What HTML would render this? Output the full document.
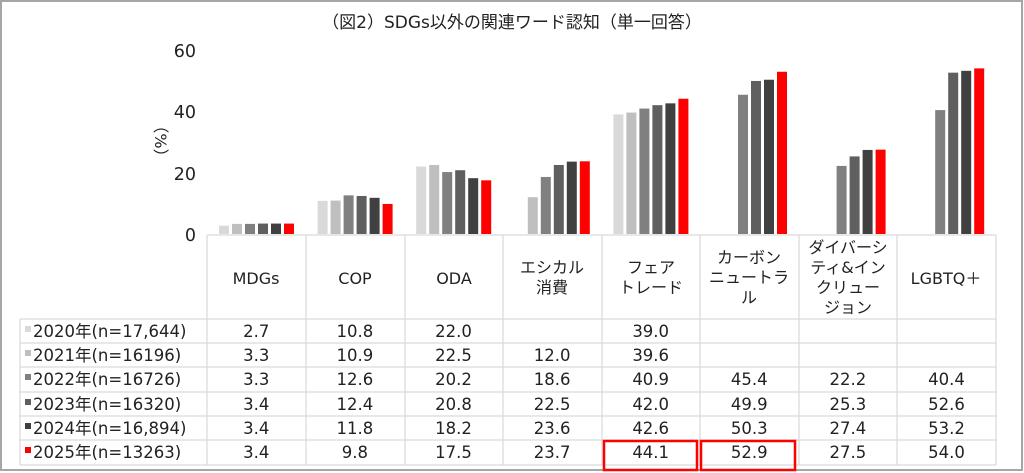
<!DOCTYPE html>
<html><head><meta charset="utf-8"><style>
html,body{margin:0;padding:0;background:#fff;}
svg{display:block;font-family:"DejaVu Sans","Noto Sans CJK JP",sans-serif;}
</style></head><body>
<svg width="1024" height="473" viewBox="0 0 1024 473" xmlns="http://www.w3.org/2000/svg">
<rect x="1" y="1" width="1021" height="469" fill="#fff" stroke="#a6a6a6" stroke-width="2"/>
<text x="512" y="28" font-size="17" text-anchor="middle" fill="#222">（図2）SDGs以外の関連ワード認知（単一回答）</text>
<g font-size="17.5" fill="#222" text-anchor="end">
<text x="196" y="57">60</text><text x="196" y="118">40</text><text x="196" y="180">20</text><text x="196" y="241">0</text>
</g>
<text font-size="16" fill="#222" transform="translate(155,141) rotate(90)" text-anchor="middle">（%）</text>
<g id="bars"></g>
<g stroke="#d9d9d9" stroke-width="1.2" fill="none">
<line x1="207" y1="235" x2="996" y2="235"/>
<line x1="20" y1="319" x2="996" y2="319"/>
<line x1="20" y1="343" x2="996" y2="343"/>
<line x1="20" y1="367" x2="996" y2="367"/>
<line x1="20" y1="392" x2="996" y2="392"/>
<line x1="20" y1="416" x2="996" y2="416"/>
<line x1="20" y1="440" x2="996" y2="440"/>
<line x1="20" y1="465" x2="996" y2="465"/>
<line x1="20" y1="319" x2="20" y2="465"/>
<line x1="207" y1="235" x2="207" y2="465"/>
<line x1="306" y1="235" x2="306" y2="465"/>
<line x1="405" y1="235" x2="405" y2="465"/>
<line x1="503" y1="235" x2="503" y2="465"/>
<line x1="602" y1="235" x2="602" y2="465"/>
<line x1="700" y1="235" x2="700" y2="465"/>
<line x1="799" y1="235" x2="799" y2="465"/>
<line x1="897" y1="235" x2="897" y2="465"/>
<line x1="996" y1="235" x2="996" y2="465"/>
</g>
<g font-size="16" fill="#222" text-anchor="middle">
<text x="256" y="284">MDGs</text><text x="355" y="284">COP</text><text x="454" y="284">ODA</text>
<text x="552" y="273">エシカル</text><text x="552" y="293">消費</text>
<text x="651" y="273">フェア</text><text x="651" y="293">トレード</text>
<text x="749" y="263">カーボン</text><text x="749" y="283">ニュートラ</text><text x="749" y="303">ル</text>
<text x="848" y="253">ダイバーシ</text><text x="848" y="273">ティ&amp;イン</text><text x="848" y="293">クリュー</text><text x="848" y="313">ジョン</text>
<text x="946" y="284">LGBTQ＋</text>
</g>
<g id="tbl" font-size="16.5" fill="#222"></g>
<rect x="604" y="441" width="93" height="29" fill="none" stroke="#ff0000" stroke-width="2.5"/>
<rect x="701" y="441" width="94" height="29" fill="none" stroke="#ff0000" stroke-width="2.5"/>
<script>
var data=[[2.7,3.3,3.3,3.4,3.4,3.4],[10.8,10.9,12.6,12.4,11.8,9.8],[22.0,22.5,20.2,20.8,18.2,17.5],[null,12.0,18.6,22.5,23.6,23.7],[39.0,39.6,40.9,42.0,42.6,44.1],[null,null,45.4,49.9,50.3,52.9],[null,null,22.2,25.3,27.4,27.5],[null,null,40.4,52.6,53.2,54.0]];
var cols=["#d9d9d9","#bfbfbf","#808080","#5f5f5f","#404040","#ff0000"];
var labels=["2020年(n=17,644)","2021年(n=16196)","2022年(n=16726)","2023年(n=16320)","2024年(n=16,894)","2025年(n=13263)"];
var ns="http://www.w3.org/2000/svg",b=document.getElementById("bars"),t=document.getElementById("tbl");
var ys=[319,343,367,392,416,440];
for(var g=0;g<8;g++){var x0=207+g*98.6;for(var s=0;s<6;s++){var v=data[g][s];
if(v!==null){var h=v*3.067;var r=document.createElementNS(ns,"rect");r.setAttribute("x",x0+12+s*13);r.setAttribute("y",234-h);r.setAttribute("width",10);r.setAttribute("height",h);r.setAttribute("fill",cols[s]);b.appendChild(r);
var tx=document.createElementNS(ns,"text");tx.setAttribute("x",x0+49.3);tx.setAttribute("y",ys[s]+18);tx.setAttribute("text-anchor","middle");tx.textContent=v.toFixed(1);t.appendChild(tx);}}}
for(var s=0;s<6;s++){var r=document.createElementNS(ns,"rect");r.setAttribute("x",25);r.setAttribute("y",ys[s]+7);r.setAttribute("width",6);r.setAttribute("height",6);r.setAttribute("fill",cols[s]);t.appendChild(r);
var tx=document.createElementNS(ns,"text");tx.setAttribute("x",33);tx.setAttribute("y",ys[s]+18);tx.textContent=labels[s];t.appendChild(tx);}
</script>
</svg>
</body></html>
